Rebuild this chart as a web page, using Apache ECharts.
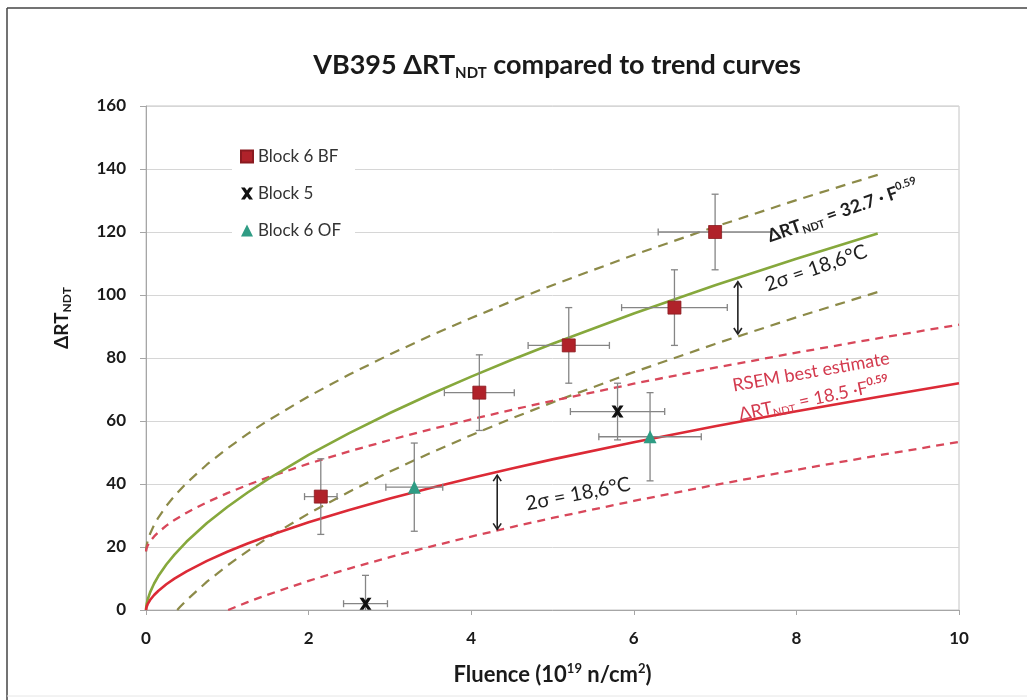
<!DOCTYPE html>
<html>
<head>
<meta charset="utf-8">
<script src="https://cdn.jsdelivr.net/npm/echarts@6/dist/echarts.min.js"></script>
<style>
html,body{margin:0;padding:0;background:#fff;}
#chart{width:1027px;height:700px;}
</style>
</head>
<body>
<div id="chart"></div>
<script>
// ---- data ----
const xTicks = [0, 2, 4, 6, 8, 10];
const yTicks = [0, 20, 40, 60, 80, 100, 120, 140, 160];

// Block 6 BF (red squares)
const bfX = [2.15, 4.1, 5.2, 6.5, 7.0];
const bfY = [36, 69, 84, 96, 120];
const bfXErr = [0.2, 0.43, 0.5, 0.65, 0.7];
const bfYErr = [12, 12, 12, 12, 12];
// Block 5 (black crosses)
const b5X = [2.7, 5.8];
const b5Y = [2, 63];
const b5XErr = [0.27, 0.58];
const b5YErr = [9, 9];
// Block 6 OF (teal triangles)
const ofX = [3.3, 6.2];
const ofY = [39, 55];
const ofXErr = [0.35, 0.63];
const ofYErr = [14, 14];

// Trend curve 32.7 F^0.59 (green) and its 2-sigma band
const greenF = [0, 0.005, 0.01, 0.02, 0.05, 0.1, 0.15, 0.25, 0.35, 0.5, 0.75, 1, 1.25, 1.5, 2, 2.5, 3, 3.5, 4, 4.5, 5, 6, 7, 8, 9];
const greenFit = [0, 1.44, 2.16, 3.25, 5.59, 8.41, 10.68, 14.43, 17.60, 21.72, 27.60, 32.7, 37.30, 41.54, 49.22, 56.15, 62.53, 68.48, 74.10, 79.43, 84.52, 94.11, 103.07, 111.53, 119.55];
const greenUpper = [18.6, 20.04, 20.76, 21.85, 24.19, 27.01, 29.28, 33.03, 36.20, 40.32, 46.20, 51.3, 55.90, 60.14, 67.82, 74.75, 81.13, 87.08, 92.70, 98.03, 103.12, 112.71, 121.67, 130.13, 138.15];
const greenLowerF = [0.384, 0.42, 0.5, 0.75, 1, 1.25, 1.5, 2, 2.5, 3, 3.5, 4, 4.5, 5, 6, 7, 8, 9];
const greenLower = [0, 1.0, 3.12, 9.0, 14.1, 18.70, 22.94, 30.62, 37.55, 43.93, 49.88, 55.50, 60.83, 65.92, 75.51, 84.47, 92.93, 100.95];

// RSEM best estimate 18.5 F^0.59 (red) and its 2-sigma band
const redF = [0, 0.005, 0.01, 0.02, 0.05, 0.1, 0.15, 0.25, 0.35, 0.5, 0.75, 1, 1.25, 1.5, 2, 2.5, 3, 3.5, 4, 4.5, 5, 6, 7, 8, 9, 10];
const redFit = [0, 0.81, 1.22, 1.84, 3.16, 4.76, 6.04, 8.17, 9.96, 12.29, 15.61, 18.5, 21.10, 23.50, 27.85, 31.76, 35.37, 38.74, 41.92, 44.93, 47.82, 53.24, 58.31, 63.10, 67.64, 71.97];
const redUpper = [18.6, 19.41, 19.82, 20.44, 21.76, 23.36, 24.64, 26.77, 28.56, 30.89, 34.21, 37.1, 39.70, 42.10, 46.45, 50.36, 53.97, 57.34, 60.52, 63.53, 66.42, 71.84, 76.91, 81.70, 86.24, 90.57];
const redLowerF = [1.01, 1.25, 1.5, 2, 2.5, 3, 3.5, 4, 4.5, 5, 6, 7, 8, 9, 10];
const redLower = [0, 2.50, 4.90, 9.25, 13.16, 16.77, 20.14, 23.32, 26.33, 29.22, 34.64, 39.71, 44.50, 49.04, 53.37];

// 2-sigma arrows
const arrowF = [7.28, 4.32];
const arrowTop = [104.2, 42.8];
const arrowBottom = [87.6, 25.6];

// ---- helpers ----
const FONT = 'Lato, "Open Sans", sans-serif';
const zip = (xs, ys) => xs.map((x, i) => [x, ys[i]]);
const errData = (xs, ys, ex, ey) => xs.map((x, i) => [x, ys[i], ex[i], ey[i]]);

function errRender(params, api) {
  const x = api.value(0), y = api.value(1), ex = api.value(2), ey = api.value(3);
  const cap = 3.5;
  const c = api.coord([x, y]);
  const l = api.coord([x - ex, y]);
  const r = api.coord([x + ex, y]);
  const t = api.coord([x, y + ey]);
  const b = api.coord([x, Math.max(y - ey, 0)]);
  const st = { stroke: '#858585', lineWidth: 1.3 };
  const children = [
    { type: 'line', shape: { x1: l[0], y1: c[1], x2: r[0], y2: c[1] }, style: st },
    { type: 'line', shape: { x1: l[0], y1: c[1] - cap, x2: l[0], y2: c[1] + cap }, style: st },
    { type: 'line', shape: { x1: r[0], y1: c[1] - cap, x2: r[0], y2: c[1] + cap }, style: st },
    { type: 'line', shape: { x1: c[0], y1: t[1], x2: c[0], y2: b[1] }, style: st },
    { type: 'line', shape: { x1: c[0] - cap, y1: t[1], x2: c[0] + cap, y2: t[1] }, style: st }
  ];
  if (y - ey >= 0) {
    children.push({ type: 'line', shape: { x1: c[0] - cap, y1: b[1], x2: c[0] + cap, y2: b[1] }, style: st });
  }
  return { type: 'group', children };
}

function arrowRender(params, api) {
  const x = api.value(0), y1 = api.value(1), y2 = api.value(2);
  const a = api.coord([x, y1]), b = api.coord([x, y2]);
  const h = 6, w = 4;
  const st = { stroke: '#222', lineWidth: 1.6, fill: null };
  return {
    type: 'group',
    children: [
      { type: 'line', shape: { x1: a[0], y1: a[1], x2: b[0], y2: b[1] }, style: st },
      { type: 'polyline', shape: { points: [[a[0] - w, a[1] + h], [a[0], a[1]], [a[0] + w, a[1] + h]] }, style: st },
      { type: 'polyline', shape: { points: [[b[0] - w, b[1] - h], [b[0], b[1]], [b[0] + w, b[1] - h]] }, style: st }
    ]
  };
}

const crossPath = 'path://M0,0 L3.2,0 5,2.6 6.8,0 10,0 6.6,5 10,10 6.8,10 5,7.4 3.2,10 0,10 3.4,5 Z';

const GREEN = '#86a83c';
const GREEN_D = '#8c8a48';
const RED = '#dc2a36';
const RED_D = '#d8475a';
const INK = '#1a1a1a';

const lineSeries = (name, xs, ys, color, width, dash, z) => ({
  name, type: 'line', data: zip(xs, ys), showSymbol: false, smooth: false,
  lineStyle: { color, width, type: dash || 'solid' }, z, silent: true
});

const chart = echarts.init(document.getElementById('chart'), null, { renderer: 'canvas' });

const option = {
  backgroundColor: '#ffffff',
  animation: false,
  title: {
    text: '{m|VB395 ΔRT}{s|NDT}{m| compared to trend curves}',
    left: 552,
    textAlign: 'center',
    top: 44,
    textStyle: {
      rich: {
        m: { fontFamily: FONT, fontWeight: 'bold', fontSize: 27, color: INK, lineHeight: 32 },
        s: { fontFamily: FONT, fontWeight: 'bold', fontSize: 15, color: INK, lineHeight: 15, verticalAlign: 'bottom' }
      }
    }
  },
  grid: {
    left: 146, right: 68, top: 106, bottom: 90,
    show: true, borderColor: '#c4c4c4', borderWidth: 1, backgroundColor: '#fff'
  },
  legend: {
    orient: 'vertical',
    left: 232, top: 142,
    itemWidth: 12, itemHeight: 12, itemGap: 20,
    backgroundColor: '#ffffff',
    padding: [6, 14, 6, 8],
    data: ['Block 6 BF', 'Block 5', 'Block 6 OF'],
    textStyle: { fontFamily: FONT, fontSize: 17, color: '#333' }
  },
  xAxis: {
    type: 'value', min: 0, max: 10, interval: 2,
    name: '{b|Fluence (10}{p|19}{b| n/cm}{p|2}{b|)}',
    nameLocation: 'middle', nameGap: 52,
    nameTextStyle: {
      rich: {
        b: { fontFamily: FONT, fontWeight: 'bold', fontSize: 22, color: INK, lineHeight: 26 },
        p: { fontFamily: FONT, fontWeight: 'bold', fontSize: 13, color: INK, lineHeight: 13, verticalAlign: 'top' }
      }
    },
    axisLine: { show: true, lineStyle: { color: '#a6a6a6', width: 1 } },
    axisTick: { show: true, length: 5, lineStyle: { color: '#a6a6a6' } },
    axisLabel: {
      margin: 20, fontFamily: FONT, fontWeight: 'bold', fontSize: 17, color: INK,
      formatter: v => xTicks.includes(v) ? String(v) : ''
    },
    splitLine: { show: false }
  },
  yAxis: {
    type: 'value', min: 0, max: 160, interval: 20,
    axisLine: { show: true, lineStyle: { color: '#a6a6a6', width: 1 } },
    axisTick: { show: true, length: 6, lineStyle: { color: '#a6a6a6' } },
    axisLabel: {
      margin: 20, fontFamily: FONT, fontWeight: 'bold', fontSize: 17, color: INK,
      formatter: v => yTicks.includes(v) ? String(v) : ''
    },
    splitLine: { show: true, lineStyle: { color: '#d6d6d6', width: 1 } }
  },
  series: [
    lineSeries('greenUpper', greenF, greenUpper, GREEN_D, 2.2, [10, 7], 2),
    lineSeries('greenLower', greenLowerF, greenLower, GREEN_D, 2.2, [10, 7], 2),
    lineSeries('redUpper', redF, redUpper, RED_D, 2.3, [8, 6], 2),
    lineSeries('redLower', redLowerF, redLower, RED_D, 2.3, [8, 6], 2),
    lineSeries('greenFit', greenF, greenFit, GREEN, 2.6, null, 3),
    lineSeries('redFit', redF, redFit, RED, 2.6, null, 3),
    { type: 'custom', renderItem: errRender, data: errData(bfX, bfY, bfXErr, bfYErr), z: 4, clip: true, silent: true },
    { type: 'custom', renderItem: errRender, data: errData(b5X, b5Y, b5XErr, b5YErr), z: 4, clip: true, silent: true },
    { type: 'custom', renderItem: errRender, data: errData(ofX, ofY, ofXErr, ofYErr), z: 4, clip: true, silent: true },
    { type: 'custom', renderItem: arrowRender, data: arrowF.map((f, i) => [f, arrowTop[i], arrowBottom[i]]), z: 4, silent: true },
    { name: 'Block 6 BF', type: 'scatter', data: zip(bfX, bfY), symbol: 'rect', symbolSize: 13,
      itemStyle: { color: '#b0222a', borderColor: '#8a1a20', borderWidth: 0.8, opacity: 1 }, z: 5 },
    { name: 'Block 5', type: 'scatter', data: zip(b5X, b5Y), symbol: crossPath, symbolSize: 12,
      itemStyle: { color: '#111', opacity: 1 }, z: 5 },
    { name: 'Block 6 OF', type: 'scatter', data: zip(ofX, ofY), symbol: 'triangle', symbolSize: 13,
      itemStyle: { color: '#2f9c84', opacity: 1 }, z: 5 }
  ],
  graphic: [
    { type: 'line', shape: { x1: 7, y1: 8, x2: 1027, y2: 8 }, style: { stroke: '#444', lineWidth: 1.5 }, silent: true },
    { type: 'line', shape: { x1: 7, y1: 8, x2: 7, y2: 700 }, style: { stroke: '#444', lineWidth: 1.5 }, silent: true },
    { type: 'line', shape: { x1: 7, y1: 696, x2: 1027, y2: 696 }, style: { stroke: '#e6e6e6', lineWidth: 1 }, silent: true },
    {
      type: 'text', x: 62, y: 318, rotation: Math.PI / 2, z: 10,
      style: {
        text: '{b|ΔRT}{s|NDT}', align: 'center', verticalAlign: 'middle',
        rich: {
          b: { fontFamily: FONT, fontWeight: 'bold', fontSize: 19, fill: INK, lineHeight: 23 },
          s: { fontFamily: FONT, fontWeight: 'bold', fontSize: 12, fill: INK, lineHeight: 12, verticalAlign: 'bottom' }
        }
      }
    },
    {
      type: 'text', x: 843, y: 211, rotation: 19 * Math.PI / 180, z: 10,
      style: {
        text: '{a|ΔRT}{s|NDT}{a| = 32.7 · F}{p|0.59}', align: 'center', verticalAlign: 'middle',
        rich: {
          a: { fontFamily: FONT, fontWeight: 'bold', fontSize: 18, fill: '#1f1f1f', lineHeight: 22 },
          s: { fontFamily: FONT, fontWeight: 'bold', fontSize: 11, fill: '#1f1f1f', lineHeight: 11, verticalAlign: 'bottom' },
          p: { fontFamily: FONT, fontWeight: 'bold', fontSize: 11, fill: '#1f1f1f', lineHeight: 11, verticalAlign: 'top' }
        }
      }
    },
    {
      type: 'text', x: 816, y: 268, rotation: 19 * Math.PI / 180, z: 10,
      style: { text: '2σ = 18,6°C', align: 'center', verticalAlign: 'middle',
        font: '20px ' + FONT, fill: '#1f1f1f' }
    },
    {
      type: 'text', x: 811, y: 372, rotation: 10 * Math.PI / 180, z: 10,
      style: { text: 'RSEM best estimate', align: 'center', verticalAlign: 'middle',
        font: '18px ' + FONT, fill: '#d33a4e' }
    },
    {
      type: 'text', x: 814, y: 399, rotation: 12 * Math.PI / 180, z: 10,
      style: {
        text: '{a|ΔRT}{s|NDT}{a| = 18.5 ·F}{p|0.59}', align: 'center', verticalAlign: 'middle',
        rich: {
          a: { fontFamily: FONT, fontSize: 18, fill: '#d33a4e', lineHeight: 22 },
          s: { fontFamily: FONT, fontSize: 11, fill: '#d33a4e', lineHeight: 11, verticalAlign: 'bottom' },
          p: { fontFamily: FONT, fontWeight: 'bold', fontSize: 11, fill: '#d33a4e', lineHeight: 11, verticalAlign: 'top' }
        }
      }
    },
    {
      type: 'text', x: 578, y: 494, rotation: 11 * Math.PI / 180, z: 10,
      style: { text: '2σ = 18,6°C', align: 'center', verticalAlign: 'middle',
        font: '20px ' + FONT, fill: '#1f1f1f' }
    }
  ]
};

chart.setOption(option);
</script>
</body>
</html>
